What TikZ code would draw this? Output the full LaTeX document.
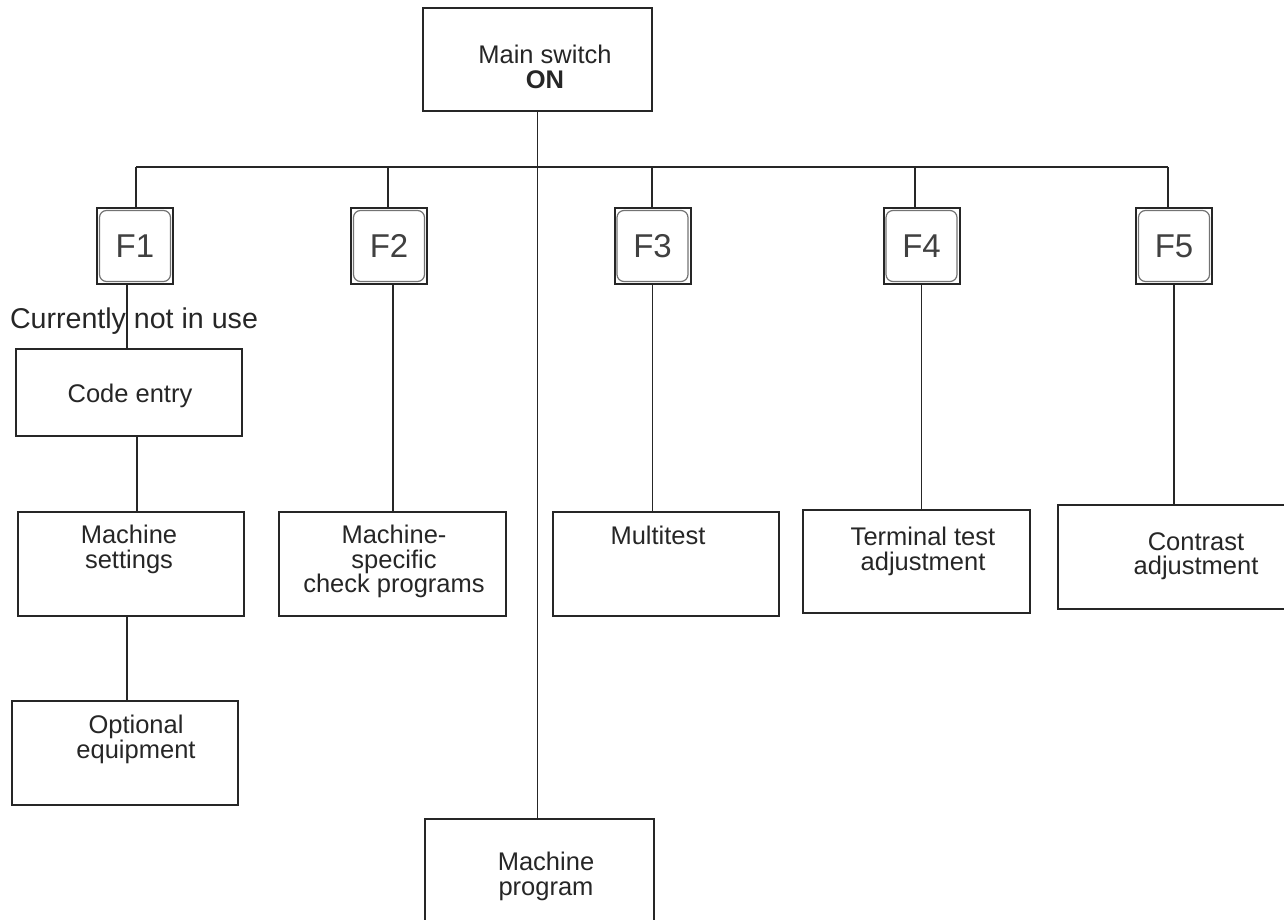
\documentclass[tikz,border=0pt]{standalone}
\usepackage{fontspec}
\setmainfont{Liberation Sans}
\begin{document}
\begin{tikzpicture}[x=0.5pt,y=-0.5pt,
  box/.style={draw=black!85, line width=1pt, inner sep=0pt},
  txt/.style={inner sep=0pt, align=center, text=black!85, anchor=north, font=\fontsize{12.75}{12.25}\selectfont},
  conn/.style={draw=black!85, line width=0.7pt},
  fkey/.style={draw=black!85, line width=1pt, minimum width=38pt, minimum height=38pt, inner sep=0pt, text=black!75, font=\fontsize{16.5}{18}\selectfont},
  keyin/.style={draw=black!55, line width=0.6pt, rounded corners=3.5pt},
  ]
\path[use as bounding box] (0,0) rectangle (1284,920);
\clip (0,0) rectangle (1284,920);

% boxes
\node[box, minimum width=114.5pt, minimum height=51.5pt] (main) at (537.5,59.5) {};
\node[box, minimum width=113pt, minimum height=43.5pt] (code) at (129,392.5) {};
\node[box, minimum width=113pt, minimum height=52pt] (ms) at (131,564) {};
\node[box, minimum width=113.5pt, minimum height=52pt] (mcp) at (392.5,564) {};
\node[box, minimum width=113pt, minimum height=52pt] (multi) at (666,564) {};
\node[box, minimum width=113.5pt, minimum height=51.5pt] (term) at (916.5,561.5) {};
\node[box, minimum width=121pt, minimum height=52pt] (contr) at (1179,557) {};
\node[box, minimum width=113pt, minimum height=52pt] (opt) at (125,753) {};
\node[box, minimum width=114.5pt, minimum height=60.5pt] (mprog) at (539.5,879.5) {};

% texts
\node[txt] (tmain) at (545,45) {Main switch\\\textbf{ON}};
\node[txt] (tcode) at (130,384) {Code entry};
\node[txt] (tms) at (129,525) {Machine\\settings};
\node[txt] (tmcp) at (394,525) {Machine-\\specific\\check programs};
\node[txt] (tmulti) at (658,526) {Multitest};
\node[txt] (tterm) at (923,527) {Terminal test\\adjustment};
\node[txt] (tcontr) at (1196,532) {Contrast\\adjustment};
\node[txt] (topt) at (136,715) {Optional\\equipment};
\node[txt] (tmprog) at (546,852) {Machine\\program};
\node[txt, font=\fontsize{14.3}{16}\selectfont] (cur) at (134,307) {Currently not in use};

% function keys
\foreach \n/\x in {1/135, 2/389, 3/652.5, 4/921.5, 5/1174} {
  \node[fkey] (F\n) at (\x,246) {F\n};
  \draw[keyin] ([shift={(3.5,3.5)}]F\n.north west) rectangle ([shift={(-3.5,-3.5)}]F\n.south east);
}

% bus coordinates
\coordinate (b1) at (136,167);
\coordinate (b2) at (388,167);
\coordinate (b3) at (652,167);
\coordinate (b4) at (915,167);
\coordinate (b5) at (1168,167);

% connectors
\draw[conn] (main.south) -- (main.south |- mprog.north);
\draw[conn] (b1) -- (b5);
\foreach \n in {1,...,5} { \draw[conn] (b\n) -- (b\n |- F\n.north); }
\draw[conn] ([xshift=-4]F1.south) -- ([xshift=-4]F1.south |- code.north);
\draw[conn] ([xshift=2]F2.south) -- ([xshift=2]F2.south |- mcp.north);
\draw[conn] (F3.south) -- (F3.south |- multi.north);
\draw[conn] (F4.south) -- (F4.south |- term.north);
\draw[conn] (F5.south) -- (F5.south |- contr.north);
\draw[conn] ([xshift=4]code.south) -- ([xshift=4]code.south |- ms.north);
\draw[conn] ([xshift=-2]ms.south) -- ([xshift=-2]ms.south |- opt.north);
\end{tikzpicture}
\end{document}
